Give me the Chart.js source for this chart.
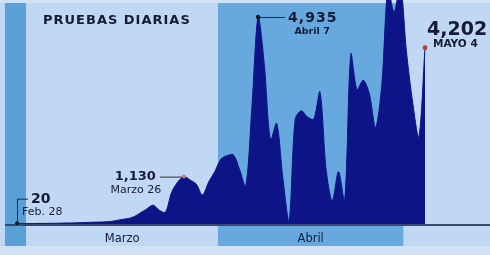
<!DOCTYPE html>
<html>
<head>
<meta charset="utf-8">
<script src="https://cdn.jsdelivr.net/npm/chart.js@4/dist/chart.umd.min.js"></script>
<style>
  html, body { margin: 0; padding: 0; background: #c0d8f3; }
  canvas { display: block; }
</style>
</head>
<body>
<canvas id="c" width="490" height="255"></canvas>
<script>
const categories = [
  "28 feb","29 feb","1 mar","2 mar","3 mar","4 mar","5 mar","6 mar","7 mar","8 mar",
  "9 mar","10 mar","11 mar","12 mar","13 mar","14 mar","15 mar","16 mar","17 mar","18 mar",
  "19 mar","20 mar","21 mar","22 mar","23 mar","24 mar","25 mar","26 mar","27 mar","28 mar",
  "29 mar","30 mar","31 mar","1 abr","2 abr","3 abr","4 abr","5 abr","6 abr","7 abr",
  "8 abr","9 abr","10 abr","11 abr","12 abr","13 abr","14 abr","15 abr","16 abr","17 abr",
  "18 abr","19 abr","20 abr","21 abr","22 abr","23 abr","24 abr","25 abr","26 abr","27 abr",
  "28 abr","29 abr","30 abr","1 may","2 may","3 may","4 may"
];
const pruebas = [
  20, 8, 10, 12, 15, 15, 18, 20, 25, 25,
  30, 35, 40, 45, 50, 60, 80, 110, 130, 180,
  270, 360, 450, 330, 280, 750, 1000, 1130, 1050, 950,
  690, 1000, 1250, 1550, 1630, 1650, 1300, 900, 2800, 4935,
  3800, 2000, 2400, 1100, 50, 2500, 2700, 2550, 2500, 3150,
  1300, 550, 1250, 550, 4050, 3200, 3430, 3100, 2300, 3300,
  5600, 5050, 5700, 4100, 2900, 2070, 4202
];
const monthLabels = ["Marzo", "Abril"];
const monthCenters = [17, 47.5];            // day index of label centre
const title = "PRUEBAS DIARIAS";
const callouts = [
  { idx: 0,  value: "20",    sub: "Feb. 28" },
  { idx: 27, value: "1,130", sub: "Marzo 26" },
  { idx: 39, value: "4,935", sub: "Abril 7" },
  { idx: 66, value: "4,202", sub: "MAYO 4" }
];

const points = pruebas.map((v, i) => ({ x: i, y: v }));

const FILL = "#0c1488";
const TEXT = "#151a36";

const decor = {
  id: "decor",
  beforeDraw(chart) {
    const ctx = chart.ctx, xs = chart.scales.x;
    const W = chart.width, H = chart.height;
    ctx.save();
    ctx.fillStyle = "#c0d8f3";
    ctx.fillRect(0, 0, W, H);
    ctx.fillStyle = "#d0e2f6";
    ctx.fillRect(0, 0, W, 3);
    ctx.fillRect(0, 246, W, H - 246);
    // Feb band
    const f0 = xs.getPixelForValue(-1.95), f1 = xs.getPixelForValue(1.45);
    ctx.fillStyle = "#5a9fd8";
    ctx.fillRect(f0, 3, f1 - f0, 243);
    // April band
    const a0 = xs.getPixelForValue(32.5), a1 = xs.getPixelForValue(62.5);
    ctx.fillStyle = "#67a9df";
    ctx.fillRect(a0, 3, a1 - a0, 243);
    ctx.restore();
  },
  afterDatasetsDraw(chart) {
    const ctx = chart.ctx, xs = chart.scales.x, ys = chart.scales.y;
    const base = ys.getPixelForValue(0);
    ctx.save();
    // baseline
    ctx.strokeStyle = "#3a4670";
    ctx.lineWidth = 2;
    ctx.beginPath();
    ctx.moveTo(xs.getPixelForValue(-1.95), base + 1);
    ctx.lineTo(chart.width, base + 1);
    ctx.stroke();

    // title
    ctx.fillStyle = TEXT;
    ctx.textBaseline = "middle";
    ctx.textAlign = "left";
    ctx.font = "bold 13px 'DejaVu Sans'";
    ctx.letterSpacing = "1px";
    ctx.fillText(title, 43, 21);
    ctx.letterSpacing = "0px";

    // month labels
    ctx.font = "11.5px 'DejaVu Sans'";
    ctx.textAlign = "center";
    monthLabels.forEach((m, i) => {
      ctx.fillText(m, xs.getPixelForValue(monthCenters[i]), 239);
    });

    const P = c => ({ x: xs.getPixelForValue(c.idx), y: ys.getPixelForValue(pruebas[c.idx]) });

    // callout 20
    {
      const c = callouts[0], p = P(c);
      ctx.strokeStyle = "#202840"; ctx.lineWidth = 1;
      ctx.beginPath();
      ctx.moveTo(p.x + 0.5, p.y);
      ctx.lineTo(p.x + 0.5, p.y - 24);
      ctx.lineTo(p.x + 11, p.y - 24);
      ctx.stroke();
      ctx.fillStyle = "#101828";
      ctx.beginPath(); ctx.arc(p.x, p.y, 2, 0, Math.PI * 2); ctx.fill();
      ctx.fillStyle = TEXT; ctx.textAlign = "left";
      ctx.font = "bold 14px 'DejaVu Sans'";
      ctx.fillText(c.value, p.x + 14, p.y - 24);
      ctx.font = "11px 'DejaVu Sans'";
      ctx.fillText(c.sub, p.x + 5, p.y - 11);
    }
    // callout 1,130
    {
      const c = callouts[1], p = P(c);
      ctx.strokeStyle = "#3a2a30"; ctx.lineWidth = 1;
      ctx.beginPath();
      ctx.moveTo(p.x - 24, p.y + 0.5);
      ctx.lineTo(p.x, p.y + 0.5);
      ctx.stroke();
      ctx.fillStyle = "#d9776a";
      ctx.beginPath(); ctx.arc(p.x, p.y, 2, 0, Math.PI * 2); ctx.fill();
      ctx.fillStyle = TEXT; ctx.textAlign = "right";
      ctx.font = "bold 13px 'DejaVu Sans'";
      ctx.fillText(c.value, p.x - 28, p.y);
      ctx.textAlign = "center";
      ctx.font = "11px 'DejaVu Sans'";
      ctx.fillText(c.sub, p.x - 48, p.y + 14);
    }
    // callout 4,935
    {
      const c = callouts[2], p = P(c);
      ctx.strokeStyle = "#202840"; ctx.lineWidth = 1;
      ctx.beginPath();
      ctx.moveTo(p.x, p.y + 0.5);
      ctx.lineTo(p.x + 27, p.y + 0.5);
      ctx.stroke();
      ctx.fillStyle = "#101828";
      ctx.beginPath(); ctx.arc(p.x, p.y, 2.2, 0, Math.PI * 2); ctx.fill();
      ctx.fillStyle = TEXT; ctx.textAlign = "left";
      ctx.font = "bold 14px 'DejaVu Sans'";
      ctx.letterSpacing = "1px";
      ctx.fillText(c.value, p.x + 30, p.y + 1);
      ctx.letterSpacing = "0px";
      ctx.textAlign = "center";
      ctx.font = "bold 9.5px 'DejaVu Sans'";
      ctx.fillText(c.sub, p.x + 54, p.y + 15);
    }
    // callout 4,202
    {
      const c = callouts[3], p = P(c);
      ctx.fillStyle = "#c0392b";
      ctx.beginPath(); ctx.arc(p.x, p.y, 2.4, 0, Math.PI * 2); ctx.fill();
      ctx.fillStyle = TEXT; ctx.textAlign = "left";
      ctx.font = "bold 19px 'DejaVu Sans'";
      ctx.fillText(c.value, p.x + 2, p.y - 18);
      ctx.font = "bold 10.5px 'DejaVu Sans'";
      ctx.fillText(c.sub, p.x + 8, p.y - 3);
    }
    ctx.restore();
  }
};

new Chart(document.getElementById("c"), {
  type: "line",
  data: {
    labels: categories,
    datasets: [{
      label: "Pruebas diarias",
      data: points,
      fill: "origin",
      backgroundColor: FILL,
      borderColor: FILL,
      borderWidth: 1,
      pointRadius: 0,
      tension: 0.3
    }]
  },
  options: {
    responsive: false,
    animation: false,
    layout: { padding: { left: 0, right: 0, top: 0, bottom: 31 } },
    scales: {
      x: { type: "linear", min: -2.75, max: 76.51, display: false },
      y: { min: 0, max: 5340, display: false }
    },
    plugins: { legend: { display: false }, tooltip: { enabled: false } }
  },
  plugins: [decor]
});
</script>
</body>
</html>
